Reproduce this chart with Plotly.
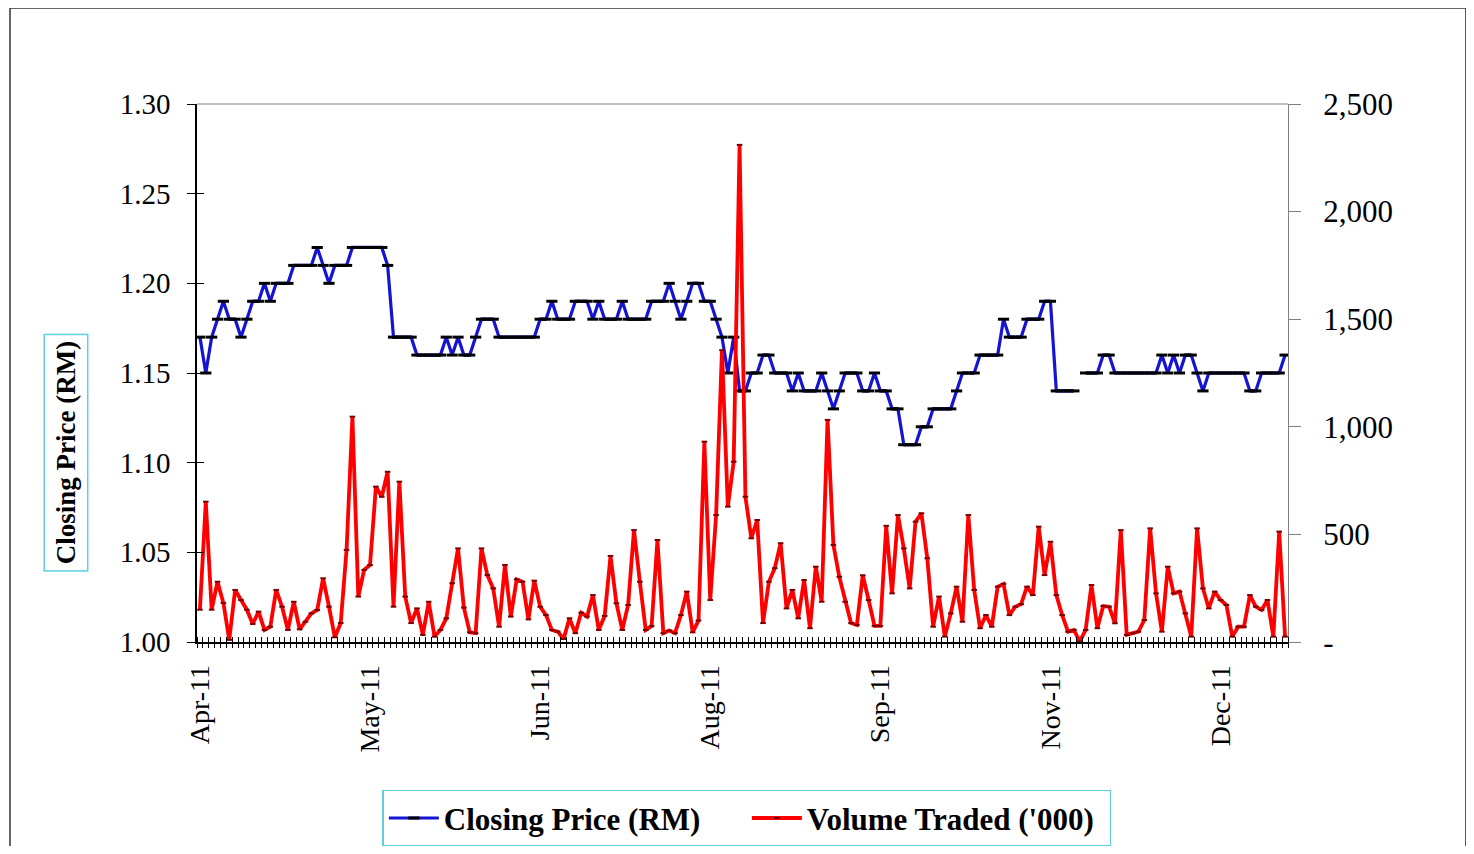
import plotly.graph_objects as go

# ---------------- data ----------------
month_labels = ['Apr-11', 'May-11', 'Jun-11', 'Aug-11', 'Sep-11', 'Nov-11', 'Dec-11']
label_step = 29  # trading days between labelled categories

closing_price = [
    1.17, 1.15, 1.17, 1.18, 1.19, 1.18, 1.18, 1.17, 1.18, 1.19,
    1.19, 1.20, 1.19, 1.20, 1.20, 1.20, 1.21, 1.21, 1.21, 1.21,
    1.22, 1.21, 1.20, 1.21, 1.21, 1.21, 1.22, 1.22, 1.22, 1.22,
    1.22, 1.22, 1.21, 1.17, 1.17, 1.17, 1.17, 1.16, 1.16, 1.16,
    1.16, 1.16, 1.17, 1.16, 1.17, 1.16, 1.16, 1.17, 1.18, 1.18,
    1.18, 1.17, 1.17, 1.17, 1.17, 1.17, 1.17, 1.17, 1.18, 1.18,
    1.19, 1.18, 1.18, 1.18, 1.19, 1.19, 1.19, 1.18, 1.19, 1.18,
    1.18, 1.18, 1.19, 1.18, 1.18, 1.18, 1.18, 1.19, 1.19, 1.19,
    1.20, 1.19, 1.18, 1.19, 1.20, 1.20, 1.19, 1.19, 1.18, 1.17,
    1.15, 1.17, 1.14, 1.14, 1.15, 1.15, 1.16, 1.16, 1.15, 1.15,
    1.15, 1.14, 1.15, 1.14, 1.14, 1.14, 1.15, 1.14, 1.13, 1.14,
    1.15, 1.15, 1.15, 1.14, 1.14, 1.15, 1.14, 1.14, 1.13, 1.13,
    1.11, 1.11, 1.11, 1.12, 1.12, 1.13, 1.13, 1.13, 1.13, 1.14,
    1.15, 1.15, 1.15, 1.16, 1.16, 1.16, 1.16, 1.18, 1.17, 1.17,
    1.17, 1.18, 1.18, 1.18, 1.19, 1.19, 1.14, 1.14, 1.14, 1.14,
    None, 1.15, 1.15, 1.15, 1.16, 1.16, 1.15, 1.15, 1.15, 1.15,
    1.15, 1.15, 1.15, 1.15, 1.16, 1.15, 1.16, 1.15, 1.16, 1.16,
    1.15, 1.14, 1.15, 1.15, 1.15, 1.15, 1.15, 1.15, 1.15, 1.14,
    1.14, 1.15, 1.15, 1.15, 1.15, 1.16,
]

volume_000 = [
    150, 652, 150, 280, 181, 10, 242, 195, 150, 84,
    141, 56, 71, 242, 164, 56, 187, 59, 94, 133,
    149, 296, 164, 22, 88, 428, 1047, 211, 335, 358,
    722, 675, 791, 164, 745, 211, 88, 156, 33, 187,
    25, 56, 110, 273, 435, 160, 45, 41, 435, 311,
    249, 71, 358, 118, 291, 280, 105, 285, 164, 125,
    56, 48, 14, 110, 41, 136, 118, 218, 56, 121,
    400, 180, 56, 172, 520, 280, 56, 74, 474, 41,
    53, 41, 125, 234, 45, 100, 931, 195, 590, 1356,
    629, 838, 2310, 675, 482, 567, 88, 280, 343, 459,
    156, 242, 110, 288, 64, 350, 187, 1032, 451, 303,
    187, 88, 79, 310, 195, 75, 75, 540, 226, 590,
    435, 249, 559, 598, 389, 71, 211, 25, 133, 257,
    94, 590, 242, 64, 125, 71, 257, 270, 125, 164,
    176, 257, 218, 536, 311, 466, 218, 125, 48, 56,
    2, 56, 265, 64, 167, 164, 87, 520, 33, 41,
    48, 102, 528, 226, 48, 350, 226, 234, 133, 25,
    528, 249, 156, 234, 195, 172, 25, 71, 71, 218,
    164, 149, 195, 25, 513, 25,
]

price_ticks = [1.00, 1.05, 1.10, 1.15, 1.20, 1.25, 1.30]
volume_ticks = [0, 500, 1000, 1500, 2000, 2500]
volume_tick_text = ['-', '500', '1,000', '1,500', '2,000', '2,500']

# ---------------- figure ----------------
n = len(closing_price)
x_idx = list(range(n))
label_pos = [i * label_step for i in range(len(month_labels))]
x_range = [-0.5, n - 0.5]

SERIF = 'Liberation Serif, Times New Roman, serif'
CYAN = '#5ccfe0'

fig = go.Figure()

fig.add_trace(go.Scatter(
    x=x_idx, y=closing_price, name='Closing Price (RM)',
    mode='lines+markers',
    line=dict(color='#1414d2', width=3.2),
    marker=dict(symbol='line-ew', size=8, color='black',
                line=dict(color='black', width=3)),
    connectgaps=False, xaxis='x', yaxis='y',
))
fig.add_trace(go.Scatter(
    x=x_idx, y=volume_000, name="Volume Traded ('000)",
    mode='lines+markers',
    line=dict(color='#ff0000', width=3.8),
    marker=dict(symbol='line-ew', size=4, color='#7a0000',
                line=dict(color='#7a0000', width=2)),
    xaxis='x', yaxis='y2',
))
# helper traces so the overlay tick axes get drawn
fig.add_trace(go.Scatter(x=[x_idx[0]], y=[None], xaxis='x3', yaxis='y',
                         showlegend=False, hoverinfo='skip', mode='lines'))
fig.add_trace(go.Scatter(x=[x_idx[0]], y=[None], xaxis='x', yaxis='y3',
                         showlegend=False, hoverinfo='skip', mode='lines'))

fig.update_layout(
    width=1458, height=838,
    margin=dict(l=189, r=178, t=96, b=204, autoexpand=False),
    paper_bgcolor='white', plot_bgcolor='white',
    font=dict(family=SERIF, color='black', size=24),
    showlegend=True,
    legend=dict(
        orientation='h', x=0.504, xanchor='center',
        yref='container', y=0.067, yanchor='top',
        bgcolor='white', bordercolor=CYAN, borderwidth=1.5,
        font=dict(family=SERIF, size=31, color='black', weight='bold'),
        itemwidth=50, tracegroupgap=0, entrywidth=298, entrywidthmode='pixels',
    ),
    xaxis=dict(
        range=x_range, tickmode='array', tickvals=label_pos, ticktext=month_labels,
        tickangle=-90, ticks='', showgrid=False, zeroline=False,
        showline=True, linecolor='black', linewidth=1.5,
        tickfont=dict(family=SERIF, size=28, color='black'),
        ticklabelstandoff=10,
        minor=dict(ticks='inside', tickmode='linear', tick0=-0.5, dtick=1,
                   ticklen=5, tickcolor='black', tickwidth=1, showgrid=False),
    ),
    xaxis3=dict(
        range=x_range, overlaying='x', anchor='y', side='bottom',
        tickmode='linear', tick0=-0.5, dtick=1, ticks='outside', ticklen=5,
        tickcolor='black', tickwidth=1, showticklabels=False,
        showgrid=False, zeroline=False, showline=False,
    ),
    yaxis=dict(
        range=[price_ticks[0], price_ticks[-1]], tickmode='array', tickvals=price_ticks,
        tickformat='.2f', ticks='outside', ticklen=8, tickcolor='black', tickwidth=1,
        showgrid=False, zeroline=False, showline=True, linecolor='black', linewidth=1.5,
        tickfont=dict(family=SERIF, size=29, color='black'),
        ticklabelstandoff=11,
    ),
    yaxis3=dict(
        range=[price_ticks[0], price_ticks[-1]], overlaying='y', anchor='x', side='left',
        tickmode='array', tickvals=price_ticks, ticks='inside', ticklen=7,
        tickcolor='black', tickwidth=1, showticklabels=False,
        showgrid=False, zeroline=False, showline=False,
    ),
    yaxis2=dict(
        range=[volume_ticks[0], volume_ticks[-1]], overlaying='y', anchor='x', side='right',
        tickmode='array', tickvals=volume_ticks, ticktext=volume_tick_text,
        ticks='outside', ticklen=12, tickcolor='#808080', tickwidth=1,
        showgrid=False, zeroline=False, showline=True, linecolor='#808080', linewidth=1,
        tickfont=dict(family=SERIF, size=31, color='black'),
        ticklabelstandoff=16,
    ),
    annotations=[dict(
        text='Closing Price (RM)', xref='paper', yref='paper',
        x=-0.12, y=0.352, xanchor='center', yanchor='middle', textangle=-90,
        showarrow=False, bordercolor=CYAN, borderwidth=1.5, borderpad=6,
        bgcolor='white', font=dict(family=SERIF, size=27, color='black', weight='bold'),
    )],
    shapes=[
        # top border of plot area
        dict(type='line', xref='paper', yref='paper', x0=0, x1=1, y0=1, y1=1,
             line=dict(color='#808080', width=1)),
        # outer chart border
        dict(type='rect', xref='paper', yref='paper',
             x0=-0.1714, x1=1.1631, y0=-0.43, y1=1.1784,
             line=dict(color='#333333', width=1.5), layer='below'),
    ],
)

fig.write_html('out.html')
